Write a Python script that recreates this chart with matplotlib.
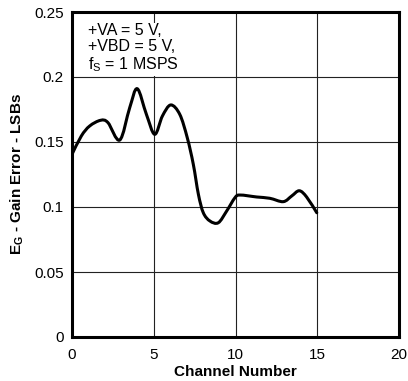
import matplotlib
matplotlib.use("Agg")
import matplotlib.pyplot as plt
import numpy as np
from matplotlib.path import Path
from matplotlib.patches import PathPatch

plt.rcParams['font.family'] = ['Liberation Sans', 'DejaVu Sans']
plt.rcParams['mathtext.fontset'] = 'custom'
plt.rcParams['mathtext.rm'] = 'Liberation Sans'
plt.rcParams['mathtext.it'] = 'Liberation Sans:italic'
plt.rcParams['mathtext.bf'] = 'Liberation Sans:bold'

channel = [0.0, 0.57, 1.08, 1.75, 2.2, 2.92, 3.53, 3.99, 4.55, 5.06, 5.53, 6.04,
           6.59, 7.05, 7.42, 7.73, 8.03, 8.44, 8.95, 9.46, 9.97, 10.28, 11.3,
           12.1, 12.92, 13.44, 13.9, 14.35, 14.97]
gain_error = [0.1405, 0.1546, 0.1623, 0.1667, 0.1649, 0.1515, 0.1764, 0.1910,
              0.1713, 0.1559, 0.170, 0.1785, 0.1713, 0.1533, 0.1328, 0.1098,
              0.0956, 0.0892, 0.0879, 0.0969, 0.1072, 0.1092, 0.1077, 0.1067,
              0.1041, 0.1085, 0.1125, 0.1077, 0.0956]
xticks = [0, 5, 10, 15, 20]
yticks = [0, 0.05, 0.1, 0.15, 0.2, 0.25]
ytick_labels = ['0', '0.05', '0.1', '0.15', '0.2', '0.25']

fig = plt.figure(figsize=(4.08, 3.81), dpi=100)
ax = fig.add_axes([72/408, 1-337/381, (399-72)/408, (337-12)/381])
ax.set_xlim(0, 20)
ax.set_ylim(0, 0.25)

# smooth curve through the read points (Catmull-Rom rendered as cubic Beziers)
pts = np.column_stack([channel, gain_error])
ext = np.vstack([pts[0], pts, pts[-1]])
verts = [tuple(pts[0])]
codes = [Path.MOVETO]
for i in range(1, len(ext) - 2):
    p0, p1, p2, p3 = ext[i - 1], ext[i], ext[i + 1], ext[i + 2]
    c1 = p1 + (p2 - p0) / 6.0
    c2 = p2 - (p3 - p1) / 6.0
    verts += [tuple(c1), tuple(c2), tuple(p2)]
    codes += [Path.CURVE4] * 3
patch = PathPatch(Path(verts, codes), facecolor='none', edgecolor='black',
                  lw=2.2, joinstyle='round', capstyle='round',
                  transform=ax.transData, zorder=3)
ax.add_patch(patch)

ax.set_xticks(xticks)
ax.set_yticks(yticks)
ax.set_yticklabels(ytick_labels)
ax.tick_params(length=0, labelsize=11)
ax.tick_params(axis='x', pad=8)
ax.tick_params(axis='y', pad=6)
ax.grid(True, color='#222222', lw=0.8)
for s in ax.spines.values():
    s.set_linewidth(2.2)
ax.set_xlabel('Channel Number', fontsize=11, fontweight='bold', labelpad=2)
ax.set_ylabel('E$_\\mathbf{G}$ - Gain Error - LSBs', fontsize=11, fontweight='bold', labelpad=6)
ax.text(0.05, 0.965, '+VA = 5 V,\n+VBD = 5 V,\nf$_\\mathrm{S}$ = 1 MSPS', transform=ax.transAxes,
        fontsize=11.5, va='top', ha='left', linespacing=1.08, zorder=4,
        bbox=dict(facecolor='white', edgecolor='none', pad=1.5))
fig.savefig('out.png', dpi=100)
